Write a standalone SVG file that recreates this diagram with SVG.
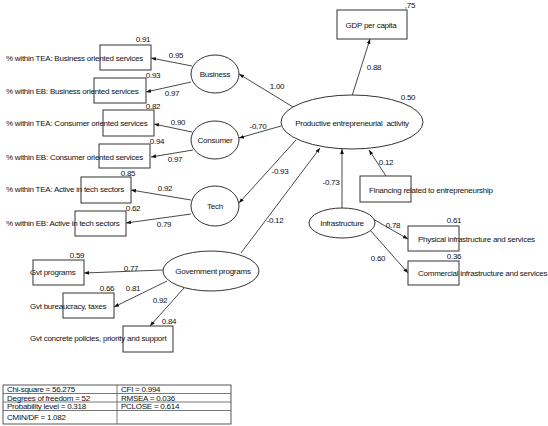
<svg xmlns="http://www.w3.org/2000/svg" width="548" height="426" viewBox="0 0 548 426">
<style>
text{font-family:"Liberation Sans",Arial,sans-serif;font-size:8px;letter-spacing:-0.25px;fill:#111}
.m{text-anchor:middle}
rect.n{fill:#fff;stroke:#333;stroke-width:1}
ellipse{fill:#fff;stroke:#333;stroke-width:1}
#connectors line{stroke:#333;stroke-width:0.9;marker-end:url(#ah)}
.t line{stroke:#555;stroke-width:0.8}
</style>
<defs>
<marker id="ah" viewBox="0 0 8 6" refX="8" refY="3" markerWidth="5" markerHeight="4" orient="auto" markerUnits="userSpaceOnUse">
<path d="M0,0 L8,3 L0,6 z" fill="#111"/>
</marker>
</defs>
<rect width="548" height="426" fill="#fff"/>

<g id="connectors">
<line x1="192" y1="66" x2="151" y2="58"/>
<line x1="191" y1="82" x2="146" y2="92"/>
<line x1="192" y1="132" x2="154" y2="124"/>
<line x1="193" y1="150" x2="151" y2="157"/>
<line x1="191" y1="200" x2="131" y2="190"/>
<line x1="191" y1="214" x2="126" y2="223"/>
<line x1="163" y1="270" x2="84" y2="273"/>
<line x1="167" y1="281" x2="114" y2="307"/>
<line x1="184" y1="288" x2="150" y2="326"/>
<line x1="352" y1="96" x2="370" y2="39"/>
<line x1="293" y1="107" x2="239" y2="74"/>
<line x1="281" y1="126" x2="239" y2="138"/>
<line x1="296" y1="140" x2="239" y2="203"/>
<line x1="241" y1="253" x2="320" y2="148"/>
<line x1="342" y1="208" x2="342" y2="149"/>
<line x1="386" y1="176" x2="369" y2="150"/>
<line x1="373" y1="219" x2="408" y2="239"/>
<line x1="370" y1="230" x2="408" y2="273"/>
</g>

<g id="n-tea-business"><rect class="n" x="100" y="45" width="51" height="25"/><text x="6" y="61">% within TEA: Business oriented services</text><text class="m" x="143" y="42">0.91</text></g>
<g id="n-eb-business"><rect class="n" x="94" y="78" width="52" height="25"/><text x="6" y="94">% within EB: Business oriented services</text><text class="m" x="153" y="78">0.93</text></g>
<g id="n-tea-consumer"><rect class="n" x="103" y="110" width="51" height="26"/><text x="6" y="126">% within TEA: Consumer oriented services</text><text class="m" x="153" y="109">0.82</text></g>
<g id="n-eb-consumer"><rect class="n" x="99" y="144" width="51" height="24"/><text x="6" y="160">% within EB: Consumer oriented services</text><text class="m" x="157" y="144">0.94</text></g>
<g id="n-tea-tech"><rect class="n" x="81" y="177" width="50" height="26"/><text x="6" y="192">% within TEA: Active in tech sectors</text><text class="m" x="128" y="176">0.85</text></g>
<g id="n-eb-tech"><rect class="n" x="75" y="211" width="51" height="25"/><text x="6" y="226">% within EB: Active in tech sectors</text><text class="m" x="133" y="211">0.62</text></g>
<g id="n-gvt-programs"><rect class="n" x="33" y="260" width="51" height="25"/><text x="30" y="275">Gvt programs</text><text class="m" x="77" y="258">0.59</text></g>
<g id="n-gvt-bureaucracy"><rect class="n" x="63" y="293" width="51" height="25"/><text x="30" y="309">Gvt bureaucracy, taxes</text><text class="m" x="107" y="291">0.66</text></g>
<g id="n-gvt-concrete"><rect class="n" x="123" y="326" width="50" height="26"/><text x="30" y="341">Gvt concrete policies, priority and support</text><text class="m" x="169" y="324">0.84</text></g>

<g id="n-business"><ellipse cx="215" cy="74" rx="24" ry="19"/><text class="m" x="215" y="77">Business</text></g>
<g id="n-consumer"><ellipse cx="215" cy="140" rx="24" ry="19"/><text class="m" x="215" y="143">Consumer</text></g>
<g id="n-tech"><ellipse cx="215" cy="206" rx="24" ry="20"/><text class="m" x="215" y="209">Tech</text></g>
<g id="n-government"><ellipse cx="211" cy="271" rx="48" ry="20"/><text class="m" x="213" y="274">Government programs</text></g>
<g id="n-productive"><ellipse cx="352" cy="122" rx="71" ry="27"/><text class="m" x="352" y="126" xml:space="preserve">Productive entrepreneurial  activity</text><text class="m" x="408" y="100">0.50</text></g>
<g id="n-gdp"><rect class="n" x="337" y="10" width="70" height="29"/><text class="m" x="371" y="28">GDP per capita</text><text class="m" x="410" y="8">,75</text></g>
<g id="n-financing"><rect class="n" x="360" y="176" width="51" height="26"/><text x="369" y="193">Financing related to entrepreneurship</text></g>
<g id="n-infrastructure"><ellipse cx="342" cy="223" rx="33" ry="15"/><text class="m" x="342" y="226">Infrastructure</text></g>
<g id="n-physical"><rect class="n" x="408" y="226" width="51" height="25"/><text x="418" y="242">Physical infrastructure and services</text><text class="m" x="454" y="223">0.61</text></g>
<g id="n-commercial"><rect class="n" x="408" y="261" width="51" height="24"/><text x="418" y="276">Commercial infrastructure and services</text><text class="m" x="454" y="259">0.36</text></g>

<g id="edge-labels">
<text class="m" x="176" y="58">0.95</text>
<text class="m" x="172" y="96">0.97</text>
<text class="m" x="178" y="125">0.90</text>
<text class="m" x="175" y="162">0.97</text>
<text class="m" x="165" y="191">0.92</text>
<text class="m" x="164" y="227">0.79</text>
<text class="m" x="131" y="271">0.77</text>
<text class="m" x="133" y="291">0.81</text>
<text class="m" x="160" y="303">0.92</text>
<text class="m" x="277" y="89">1.00</text>
<text class="m" x="258" y="129">-0.70</text>
<text class="m" x="280" y="174">-0.93</text>
<text class="m" x="275" y="223">-0.12</text>
<text class="m" x="331" y="185">-0.73</text>
<text class="m" x="386" y="165">0.12</text>
<text class="m" x="374" y="70">0.88</text>
<text class="m" x="393" y="228">0.78</text>
<text class="m" x="378" y="261">0.60</text>
</g>

<g id="fit-table" class="t">
<rect x="3" y="385" width="228" height="39" fill="#fff" stroke="#444" stroke-width="0.9"/>
<line x1="3" y1="393.5" x2="231" y2="393.5"/>
<line x1="3" y1="402" x2="231" y2="402"/>
<line x1="3" y1="410.5" x2="231" y2="410.5"/>
<line x1="117" y1="385" x2="117" y2="424"/>
<text x="7" y="392">Chi-square = 56.275</text>
<text x="7" y="400.5">Degrees of freedom = 52</text>
<text x="7" y="409">Probability level = 0.318</text>
<text x="7" y="420">CMIN/DF = 1.082</text>
<text x="121" y="392">CFI = 0.994</text>
<text x="121" y="400.5">RMSEA = 0.036</text>
<text x="121" y="409">PCLOSE = 0.614</text>
</g>
</svg>
